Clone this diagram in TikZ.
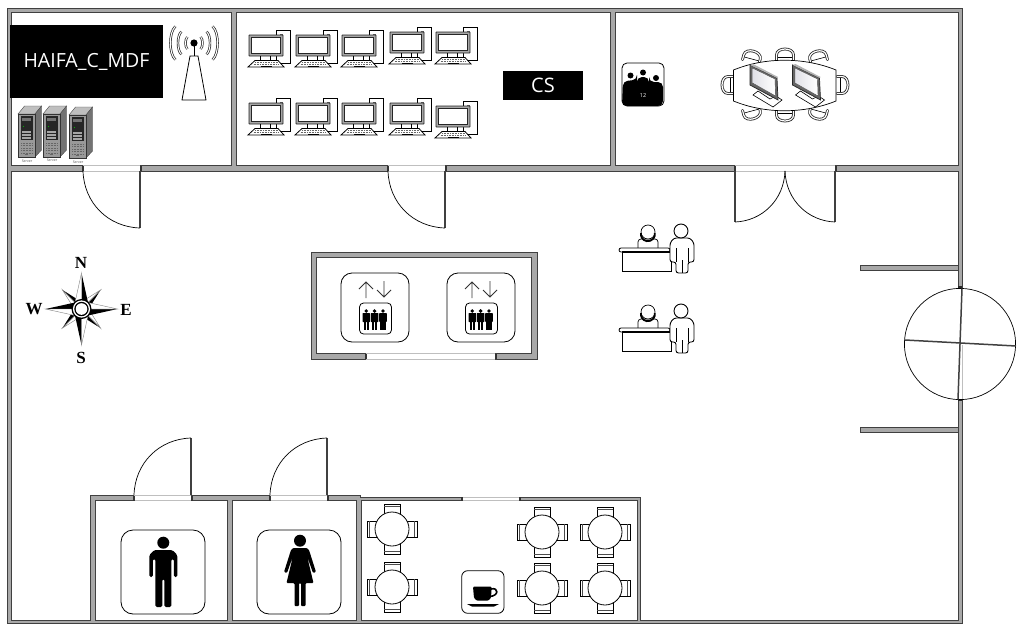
\documentclass[tikz,border=0pt]{standalone}
\usepackage{fontspec}
\setmainfont{Open Sans}
\newfontfamily\compassfont{Liberation Serif}
\tikzset{
  x=1pt,y=-1pt,
  wall/.style={fill=wallgray,draw=black!75,line width=0.8pt,even odd rule},
  leaf/.style={draw=black!75,line width=1.8pt},
  swing/.style={draw=black,line width=0.7pt},
  icon/.style={draw=black,line width=0.8pt,rounded corners=10pt,fill=white},
  thinline/.style={draw=black,line width=0.7pt},
  label/.style={text=white,inner sep=0pt},
  tiny/.style={inner sep=0pt,text=black!70,font=\fontsize{3.5}{4}\selectfont},
  dir/.style={inner sep=0pt,font=\compassfont\bfseries\fontsize{17}{18}\selectfont},
}
\definecolor{wallgray}{HTML}{A8A8A8}
\newcommand{\wgap}[4]{% x1 y1 x2 y2
  \fill[white] (#1,#2) rectangle (#3,#4);
  \draw[black!25,line width=0.6pt] (#1,#2) -- (#3,#2) (#1,#4) -- (#3,#4);
  \fill[black!80] (#1-1.5,#2) rectangle (#1+0.5,#4);
  \fill[black!80] (#3-0.5,#2) rectangle (#3+1.5,#4);
}
\newcommand{\computer}[2]{%
  \begin{scope}[shift={(#1,#2)}]
    \draw[fill=white,line width=0.8pt] (27.5,-4.3) rectangle (41.5,28.3);
    \fill[black!60] (31,-1) rectangle (33.5,3);
    \draw[fill=black!35,draw=black!85,line width=0.8pt,rounded corners=0.5pt] (0,0) rectangle (34,21);
    \draw[draw=black!85,line width=0.8pt,fill=white] (2.5,2.5) rectangle (31.5,18.5);
    \draw[line width=0.8pt] (11,21) -- (11,25.5) (21,21) -- (21,25.5);
    \draw[fill=white,line width=0.8pt] (6,25.5) -- (29,25.5) -- (35,32) -- (-1,32) -- cycle;
    \draw[black!60,line width=0.9pt,dash pattern=on 1pt off 0.6pt] (6,27.5) -- (29,27.5) (4.5,29.3) -- (30,29.3);
    \draw[black,line width=1pt] (12,31) -- (23,31);
  \end{scope}}
\newcommand{\server}[2]{%
  \begin{scope}[shift={(#1,#2)}]
    \fill[black!25,draw=black!70,line width=0.4pt] (0,8) -- (6.5,0) -- (23.5,0) -- (17,8) -- cycle;
    \fill[black!55,draw=black!70,line width=0.4pt] (17,8) -- (23.5,0) -- (23.5,44) -- (17,51) -- cycle;
    \fill[black!40,draw=black!80,line width=0.4pt] (0,8) rectangle (17,51);
    \fill[black!85] (2.5,10) rectangle (14.5,34);
    \fill[black!55] (4,12) rectangle (13,15);
    \fill[green!70!black] (5,20) rectangle (6,21);
    \foreach \q in {25,28,31}{\fill[black!35] (4,\q) rectangle (13,\q+1.5);}
    \foreach \q in {37,39.5,42,44.5,47}{\draw[black!60,line width=0.5pt,dash pattern=on 1pt off 0.5pt] (3,\q) -- (14,\q);}
    \fill[black!60] (7,48) rectangle (10,49);
  \end{scope}}
\newcommand{\lift}[2]{%
  \begin{scope}[shift={(#1,#2)}]
    \draw[icon,rounded corners=11pt] (0,0) rectangle (68,69);
    \draw[black!80,line width=0.8pt] (25,25) -- (25,9) (18,16) -- (25,9) -- (32,16);
    \draw[black!80,line width=0.8pt] (43,8) -- (43,24) (36,17) -- (43,24) -- (50,17);
    \draw[icon,rounded corners=4pt] (18.5,30) rectangle (50.5,61);
    \foreach \q in {25.3,33.6,42}{
      \fill (\q,38) circle (1.9);
      \fill[rounded corners=0.6pt] (\q-3.8,40) rectangle (\q+3.8,49);
      \fill (\q-2.6,48) rectangle (\q-0.3,57);
      \fill (\q+0.3,48) rectangle (\q+2.6,57);
    }
  \end{scope}}
\newcommand{\reception}[2]{%
  \begin{scope}[shift={(#1,#2)}]
    % seated person
    \draw[fill=white,line width=0.7pt,rounded corners=3pt] (638,249) -- (638,239) -- (658,239) -- (658,249);
    \draw[fill=white,line width=0.7pt] (648,232) circle (7);
    \draw[line width=1.8pt] (641,233) arc[start angle=190,end angle=-10,radius=7];
    % desk
    \draw[fill=white,line width=0.9pt] (622,252) rectangle (671,271);
    \draw[fill=white,line width=0.8pt,rounded corners=2pt] (619,248) rectangle (670,252);
    \draw[line width=1.2pt] (622,252) -- (670,252);
    % standing person
    \draw[fill=white,line width=0.9pt,rounded corners=2.5pt] (676,273) -- (676,262) -- (670,262) -- (670,243) -- (674,238) -- (690,238) -- (694,243) -- (694,262) -- (688,262) -- (688,273) -- cycle;
    \draw[line width=0.7pt] (682,273) -- (682,260) (676,262) -- (676,248) (688,262) -- (688,248);
    \draw[fill=white,line width=0.9pt] (681,231) circle (7);
  \end{scope}}
\newcommand{\cafetable}[2]{%
  \begin{scope}[shift={(#1,#2)}]
    \foreach \r in {0,90,180,270}{
      \begin{scope}[rotate=\r]
        \draw[fill=white,line width=0.7pt] (-8,-25) rectangle (8,-14);
        \draw[line width=0.5pt,black!70] (-8,-22.5) -- (8,-22.5);
      \end{scope}}
    \draw[fill=white,line width=0.8pt] (0,0) circle (17);
  \end{scope}}
\newcommand{\confchair}[3]{%
  \begin{scope}[shift={(#1,#2)},rotate=#3]
    \draw[line width=2.8pt,black!85,line cap=round] (-8.5,5) -- (-8.5,0) .. controls (-8.5,-8) and (8.5,-8) .. (8.5,0) -- (8.5,5);
    \draw[line width=1.2pt,white,line cap=round] (-8.5,5) -- (-8.5,0) .. controls (-8.5,-8) and (8.5,-8) .. (8.5,0) -- (8.5,5);
    \draw[line width=0.6pt] (-7,2) -- (7,2);
  \end{scope}}
\newcommand{\confscreen}[1]{%
  \begin{scope}[xshift=#1]
    \draw[fill=white,line width=0.6pt] (753,95) -- (773,107) -- (782,100) -- (776,96) -- (770,99) -- (758,91) -- cycle;
    \fill[black!60,draw=black!85,line width=0.7pt] (750,65) -- (777,78) -- (778,100) -- (750,85) -- cycle;
    \fill[black!30] (750,65) -- (753,64) -- (778,77) -- (777,78) -- cycle;
    \shade[left color=blue!22!black!12,right color=white,draw=black!70,line width=0.4pt] (752.5,68) -- (775,79) -- (775.5,96) -- (752.5,83) -- cycle;
  \end{scope}}
\begin{document}
\begin{tikzpicture}
\useasboundingbox (0,0) rectangle (1020,632);
\fill[white] (0,0) rectangle (1020,632);

% walls, one even-odd path with the rooms as holes
\path[wall]
  (7.5,8) rectangle (962,623.5)
  (11,12) rectangle (231,165.5)
  (236,12) rectangle (610,165.5)
  (615,12) rectangle (958,165.5)
  (11,171) -- (958,171) -- (958,620) -- (640,620) -- (640,497) -- (360,497) -- (360,495.5) -- (90,495.5) -- (90,620) -- (11,620) -- cycle
  (95,500.5) rectangle (227,620)
  (232,500.5) rectangle (356,620)
  (361,500.5) rectangle (637,620)
  (311,252) rectangle (537,359)
  (316.5,257.5) rectangle (531.5,353.5)
  (860,265) rectangle (958,270.5)
  (860,427) rectangle (958,432.5);

% door openings
\wgap{83}{165.5}{140}{171}
\wgap{388}{165.5}{445}{171}
\wgap{735}{165.5}{835}{171}
\wgap{366}{353.5}{495}{359}
\wgap{134}{495.5}{191}{500.5}
\wgap{270}{495.5}{327}{500.5}
\wgap{462}{497}{519}{500.5}

% door leaves
\draw[leaf] (140,171) -- (140,228);
\draw[swing] (140,228) .. controls (108,227) and (84,203) .. (83,171);
\draw[leaf] (445,171) -- (445,228);
\draw[swing] (445,228) .. controls (413,227) and (389,203) .. (388,171);
\draw[leaf] (735,171) -- (735,222);
\draw[swing] (735,222) .. controls (762,221) and (784,200) .. (785,171);
\draw[leaf] (835,171) -- (835,222);
\draw[swing] (835,222) .. controls (808,221) and (786,200) .. (785,171);
\draw[leaf] (191,495) -- (191,438);
\draw[swing] (191,438) .. controls (159,439) and (135,463) .. (134,495);
\draw[leaf] (327,495) -- (327,438);
\draw[swing] (327,438) .. controls (295,439) and (271,463) .. (270,495);

% revolving door
\fill[white] (956,288) rectangle (964,400);
\draw[black!25,line width=0.6pt] (962,345) -- (962,399);
\fill[black!85] (957.5,285.5) rectangle (962,288.5);
\fill[black!85] (957.5,399) rectangle (962,401);
\draw[swing,fill=none] (960,344) circle (55.6);
\draw[leaf,line width=1.5pt] (962,288.5) -- (958,399.5);
\draw[leaf,line width=1.5pt] (905,340) -- (1016,346);

% MDF room
\node[fill=black,minimum width=153pt,minimum height=73pt,inner sep=0pt] (mdfbox) at (86.5,61.5) {};
\node[label,font=\fontsize{19.5}{22}\selectfont] (mdf) at (mdfbox.center) {HAIFA\_C\_MDF};
\draw[line width=0.8pt] (190,56) -- (198,56) -- (206,100) -- (182,100) -- cycle;
\draw[line width=1pt] (194,44) -- (194,56);
\fill (194,43) circle (3.6);
\foreach \r in {9,17,25}{
  \draw[line width=2.4pt,black!85] (194,43) ++(42:\r) .. controls ++(-42:0.36*\r*1.0) and ++(42:0.36*\r*1.0) .. ++(0,-2*\r*0.669);
}
\foreach \r in {9,17,25}{
  \draw[line width=1pt,white] (194,43) ++(42:\r) .. controls ++(-42:0.36*\r*1.0) and ++(42:0.36*\r*1.0) .. ++(0,-2*\r*0.669);
  \draw[line width=2.4pt,black!85] (194,43) ++(138:\r) .. controls ++(-138:0.36*\r*1.0) and ++(138:0.36*\r*1.0) .. ++(0,-2*\r*0.669);
  \draw[line width=1pt,white] (194,43) ++(138:\r) .. controls ++(-138:0.36*\r*1.0) and ++(138:0.36*\r*1.0) .. ++(0,-2*\r*0.669);
}
\server{18}{106}
\server{43}{106}
\server{69}{107}
\node[tiny] (s1) at (27,161) {Server};
\node[tiny] (s2) at (52,160.5) {Server};
\node[tiny] (s3) at (78,162) {Server};

% CS room
\computer{249}{35}
\computer{296}{35}
\computer{342}{35}
\computer{390}{32}
\computer{436}{32}
\computer{249}{103}
\computer{296}{103}
\computer{342}{103}
\computer{390}{103}
\computer{436}{106}
\node[fill=black,minimum width=80pt,minimum height=29pt,inner sep=0pt] (csbox) at (543,85.5) {};
\node[label,font=\fontsize{20}{22}\selectfont] (cs) at (csbox.center) {CS};

% conference room
\draw[icon,rounded corners=5pt] (622,63) rectangle (664,106);
\fill[rounded corners=5pt] (623,81) -- (637,80) -- (637,77) -- (649,77) -- (649,82) -- (663,82) -- (663,106) -- (622,106) -- cycle;
\fill (630.5,75.5) circle (3);
\fill (643,72.5) circle (3);
\fill (656,78) circle (3);
\node[label,font=\fontsize{5.5}{6}\selectfont] (twelve) at (643,95.5) {12};
\confchair{785}{55}{0}
\confchair{752}{57}{-15}
\confchair{818}{57}{15}
\confchair{785}{115}{180}
\confchair{752}{113}{195}
\confchair{818}{113}{165}
\confchair{728}{85}{90}
\confchair{842}{85}{-90}
\draw[fill=white,line width=0.7pt] (733.5,70) .. controls (765,57) and (804,57) .. (836,70) -- (836,101) .. controls (804,114) and (765,114) .. (733.5,101) -- cycle;
\confscreen{0pt}
\confscreen{42.5pt}

% lifts
\lift{341}{273}
\lift{447}{273}

% reception
\reception{0}{0}
\reception{0}{80}

% compass
\begin{scope}[shift={(81.5,309)}]
  \foreach \a in {45,135,225,315}{
    \begin{scope}[rotate=\a]
      \fill[black] (0,0) -- (0,-27) -- (5,-5) -- cycle;
      \draw[black!50,line width=0.4pt,fill=white] (0,0) -- (0,-27) -- (-5,-5) -- cycle;
    \end{scope}}
  \foreach \a in {0,90,180,270}{
    \begin{scope}[rotate=\a]
      \fill[black] (0,0) -- (0,-36) -- (6.5,-6.5) -- cycle;
      \draw[black!50,line width=0.4pt,fill=white] (0,0) -- (0,-36) -- (-6.5,-6.5) -- cycle;
    \end{scope}}
  \fill[black] (0,0) circle (10);
  \fill[white] (0,0) circle (8.6);
  \fill[black] (0,0) circle (7.2);
  \fill[white] (0,0) circle (5.8);
\end{scope}
\node[dir] (north) at (81,263) {N};
\node[dir] (south) at (81,358) {S};
\node[dir] (west) at (34,309.5) {W};
\node[dir] (east) at (126,309.5) {E};

% rest rooms
\draw[icon,rounded corners=12pt] (121,530) rectangle (205,614);
\draw[icon,rounded corners=12pt] (257,530) rectangle (341,614);
\fill (163.3,542.7) circle (6);
\fill[rounded corners=1.5pt] (154.3,550) -- (172.3,550) -- (177.3,555) -- (177.3,577) -- (173.8,577) -- (173.8,559) -- (171.3,559) -- (171.3,607) -- (164.3,607) -- (164.3,579) -- (162.3,579) -- (162.3,607) -- (155.3,607) -- (155.3,559) -- (152.8,559) -- (152.8,577) -- (149.3,577) -- (149.3,555) -- cycle;
\fill (300,540.7) circle (6);
\fill[rounded corners=1pt] (293,548) -- (307,548) -- (309,550) -- (316,572) -- (313,573) -- (307,556) -- (313.5,583) -- (305.5,583) -- (305.5,606) -- (301,606) -- (301,583) -- (299,583) -- (299,606) -- (294.5,606) -- (294.5,583) -- (286.5,583) -- (293,556) -- (287,573) -- (284,572) -- (291,550) -- cycle;

% cafe
\cafetable{392}{529}
\cafetable{392}{587}
\cafetable{542}{532}
\cafetable{605}{532}
\cafetable{542}{588}
\cafetable{605}{588}
\draw[icon,rounded corners=6pt] (461.7,570.7) rectangle (504,613.3);
\fill[rounded corners=1pt] (473,586.7) -- (491.7,586.7) -- (491,598) -- (488,600.7) -- (477,600.7) -- (474,598) -- cycle;
\draw[line width=1.6pt] (491,589) .. controls (499,587) and (499,596) .. (489.5,596.5);
\fill (467,604) -- (499,604) -- (494,606.5) -- (472,606.5) -- cycle;
\end{tikzpicture}
\end{document}
